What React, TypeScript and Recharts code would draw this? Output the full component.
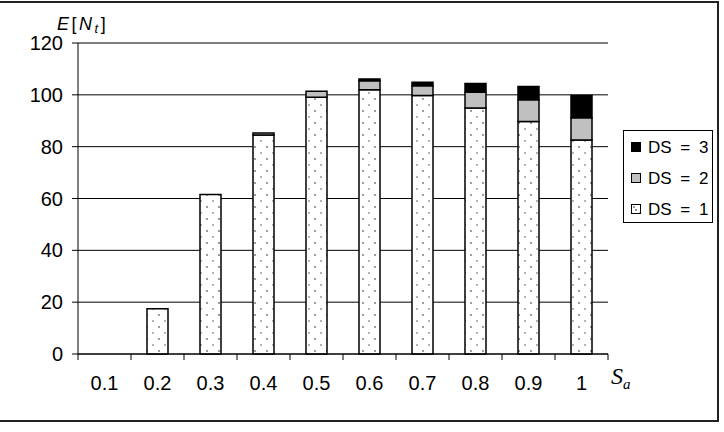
import React from 'react';
import { BarChart, Bar, XAxis, YAxis, CartesianGrid } from 'recharts';

const categories = ['0.1', '0.2', '0.3', '0.4', '0.5', '0.6', '0.7', '0.8', '0.9', '1'];
const ds1 = [0, 17.5, 61.5, 84.5, 99.1, 102, 99.7, 94.9, 89.7, 82.6];
const ds2 = [0, 0, 0, 0.8, 2.3, 3.4, 3.8, 6.1, 8.4, 8.6];
const ds3 = [0, 0, 0, 0, 0, 0.7, 1.4, 3.4, 5.1, 8.5];
const yTicks = [0, 20, 40, 60, 80, 100, 120];
const legendItems = [
  { label: 'DS = 3', fill: '#000' },
  { label: 'DS = 2', fill: '#c0c0c0' },
  { label: 'DS = 1', fill: 'url(#dots)' },
];

const data = categories.map((c, i) => ({ sa: c, ds1: ds1[i], ds2: ds2[i], ds3: ds3[i] }));

const W = 724;
const H = 432;
const M = { top: 43, right: 116, bottom: 0, left: 0 };
const Y_W = 78;
const X_H = 78;
const HALF_BAND = (W - M.right - M.left - Y_W) / categories.length / 2;

const font = '"Liberation Sans", Arial, sans-serif';

const XTick = (props: any) => {
  const { x, y, payload, index } = props;
  const last = index === categories.length - 1;
  return (
    <g>
      <line x1={x - HALF_BAND} y1={y} x2={x - HALF_BAND} y2={y + 6} stroke="#000" />
      {last && <line x1={x + HALF_BAND} y1={y} x2={x + HALF_BAND} y2={y + 6} stroke="#000" />}
      <text x={x} y={y + 36} textAnchor="middle" fontSize={20} fontFamily={font} fill="#000">
        {payload.value}
      </text>
    </g>
  );
};

const LegendBox = () => (
  <div
    style={{
      position: 'absolute',
      left: 623,
      top: 130,
      border: '1px solid #000',
      width: 90,
      height: 93,
      boxSizing: 'border-box',
      background: '#fff',
      paddingTop: 1,
    }}
  >
    {legendItems.map((it) => (
      <div key={it.label} style={{ display: 'flex', alignItems: 'center', height: 31, paddingLeft: 7 }}>
        <svg width={11} height={11} style={{ marginRight: 6 }}>
          <rect x={0.5} y={0.5} width={9} height={9} fill={it.fill} stroke="#000" strokeWidth={1} />
          {it.fill.startsWith('url') && <circle cx={5} cy={6} r={0.8} fill="#000" />}
        </svg>
        <span style={{ fontFamily: font, fontSize: 17, wordSpacing: 4, whiteSpace: 'pre', color: '#000' }}>
          {it.label}
        </span>
      </div>
    ))}
  </div>
);

export default function App() {
  return (
    <div style={{ position: 'absolute', left: 0, top: 0, width: W, height: H, background: '#fff', overflow: 'hidden' }}>
      <svg width={0} height={0} style={{ position: 'absolute' }}>
        <defs>
          <pattern id="dots" width={12} height={12} patternUnits="userSpaceOnUse">
            <rect width={12} height={12} fill="#fff" />
            <circle cx={3} cy={3} r={0.8} fill="#222" />
            <circle cx={9} cy={9} r={0.8} fill="#555" />
          </pattern>
        </defs>
      </svg>
      <div
        style={{
          position: 'absolute',
          left: -2,
          top: 1,
          width: 719,
          height: 417,
          borderTop: '2px solid #222',
          borderRight: '2px solid #222',
          borderBottom: '2px solid #222',
        }}
      />
      <BarChart width={W} height={H} data={data} margin={M} barSize={21} style={{ position: 'absolute', left: 0, top: 0 }}>
        <CartesianGrid vertical={false} stroke="#000" strokeWidth={1} />
        <XAxis
          dataKey="sa"
          height={X_H}
          stroke="#000"
          tickLine={false}
          tickSize={0}
          tickMargin={0}
          interval={0}
          tick={<XTick />}
        />
        <YAxis
          width={Y_W}
          domain={[0, 120]}
          ticks={yTicks}
          interval={0}
          stroke="#000"
          tickSize={6}
          tickMargin={9}
          tick={{ fill: '#000', fontSize: 20, fontFamily: font }}
        />
        <Bar dataKey="ds1" stackId="a" fill="url(#dots)" stroke="#000" strokeWidth={1.5} isAnimationActive={false} />
        <Bar dataKey="ds2" stackId="a" fill="#c0c0c0" stroke="#000" strokeWidth={1.5} isAnimationActive={false} />
        <Bar dataKey="ds3" stackId="a" fill="#000" stroke="#000" strokeWidth={1.5} isAnimationActive={false} />
      </BarChart>
      <LegendBox />
      <div
        style={{
          position: 'absolute',
          left: 57,
          top: 14,
          fontFamily: font,
          fontSize: 18,
          letterSpacing: 2.5,
          color: '#000',
          whiteSpace: 'pre',
        }}
      >
        <i>E</i>[<i>N</i>
        <i style={{ fontSize: 13, position: 'relative', top: 3 }}>t</i>]
      </div>
      <div
        style={{
          position: 'absolute',
          left: 611,
          top: 363,
          fontFamily: '"Liberation Serif", "Times New Roman", serif',
          fontStyle: 'italic',
          fontSize: 24,
          color: '#000',
        }}
      >
        S<span style={{ fontSize: 15, position: 'relative', top: 5 }}>a</span>
      </div>
    </div>
  );
}
